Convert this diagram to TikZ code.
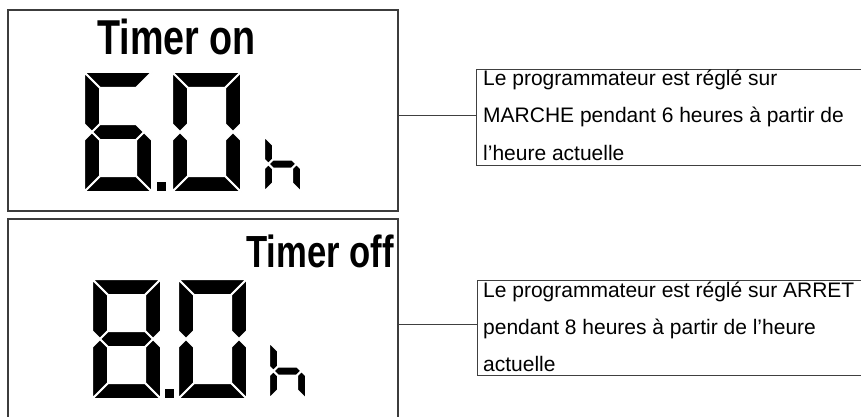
\documentclass[tikz,border=0pt]{standalone}
\usepackage{fontspec}
\setmainfont{Liberation Sans}
\definecolor{framegray}{HTML}{3C3C3C}
\definecolor{boxgray}{HTML}{404040}
\tikzset{
  seg/.style={fill=black, draw=white, line width=2pt, line join=round},
  lcdframe/.style={draw=framegray, line width=1.7pt, inner sep=0pt, anchor=north west},
  notebox/.style={draw=boxgray, line width=1.3pt, inner sep=0pt, anchor=north west},
  notetext/.style={anchor=base west, inner sep=0pt, font=\fontsize{21}{25}\selectfont},
  link/.style={draw=boxgray, line width=1.3pt},
  lcdtitle/.style={inner sep=0pt},
}
\newcommand\dset[6]{\def\dL{#1}\def\dR{#2}\def\dT{#3}\def\dB{#4}\def\dM{#5}\def\dt{#6}}
\newcommand\lcdA{\path[seg] (\dL,\dT) -- (\dR,\dT) -- ({\dR-\dt},{\dT+\dt}) -- ({\dL+\dt},{\dT+\dt}) -- cycle;}
\newcommand\lcdB{\path[seg] (\dR,\dT) -- (\dR,{\dM-\dt/2}) -- ({\dR-\dt/2},\dM) -- ({\dR-\dt},{\dM-\dt/2}) -- ({\dR-\dt},{\dT+\dt}) -- cycle;}
\newcommand\lcdC{\path[seg] (\dR,{\dM+\dt/2}) -- (\dR,\dB) -- ({\dR-\dt},{\dB-\dt}) -- ({\dR-\dt},{\dM+\dt/2}) -- ({\dR-\dt/2},\dM) -- cycle;}
\newcommand\lcdD{\path[seg] (\dL,\dB) -- ({\dL+\dt},{\dB-\dt}) -- ({\dR-\dt},{\dB-\dt}) -- (\dR,\dB) -- cycle;}
\newcommand\lcdE{\path[seg] (\dL,{\dM+\dt/2}) -- ({\dL+\dt/2},\dM) -- ({\dL+\dt},{\dM+\dt/2}) -- ({\dL+\dt},{\dB-\dt}) -- (\dL,\dB) -- cycle;}
\newcommand\lcdF{\path[seg] (\dL,\dT) -- ({\dL+\dt},{\dT+\dt}) -- ({\dL+\dt},{\dM-\dt/2}) -- ({\dL+\dt/2},\dM) -- (\dL,{\dM-\dt/2}) -- cycle;}
\newcommand\lcdG{\path[seg] ({\dL+\dt/2},\dM) -- ({\dL+\dt},{\dM-\dt/2}) -- ({\dR-\dt},{\dM-\dt/2}) -- ({\dR-\dt/2},\dM) -- ({\dR-\dt},{\dM+\dt/2}) -- ({\dL+\dt},{\dM+\dt/2}) -- cycle;}
\begin{document}
\begin{tikzpicture}[x=1pt,y=-1pt]
\useasboundingbox[fill=white] (0,0) rectangle (861,417);
\clip (0,0) rectangle (861,417);

% LCD frames
\node[lcdframe, minimum width=390pt, minimum height=201pt] (lcdA) at (7,9) {};
\node[lcdframe, minimum width=390pt, minimum height=212pt] (lcdB) at (7,218) {};

% Titles
\node[lcdtitle, anchor=base west] (ton) at (97,55) {\scalebox{0.77}[1]{\fontsize{49}{50}\selectfont\bfseries Timer on}};
\node[lcdtitle, anchor=base east] (toff) at (394,267) {\scalebox{0.77}[1]{\fontsize{45}{46}\selectfont\bfseries Timer off}};

% 6.0 h
\dset{84}{152}{72}{192}{132}{16}\lcdA\lcdC\lcdD\lcdE\lcdF\lcdG
\fill (157,182) rectangle (166,191);
\dset{172}{241}{72}{192}{132}{16}\lcdA\lcdB\lcdC\lcdD\lcdE\lcdF
\dset{264}{301}{136}{192}{164}{9}\lcdF\lcdE\lcdG\lcdC

% 8.0 h
\dset{92}{161}{279}{399}{339}{16}\lcdA\lcdB\lcdC\lcdD\lcdE\lcdF\lcdG
\fill (165,389) rectangle (174,398);
\dset{178}{247}{279}{399}{339}{16}\lcdA\lcdB\lcdC\lcdD\lcdE\lcdF
\dset{269}{306}{342}{399}{371}{9}\lcdF\lcdE\lcdG\lcdC

% Note boxes
\node[notebox, minimum width=394pt, minimum height=96pt] (tbA) at (476,69) {};
\node[notebox, minimum width=394pt, minimum height=95pt] (tbB) at (477,280) {};

\node[notetext] (a1) at (483,86) {Le programmateur est réglé sur};
\node[notetext] (a2) at (483,123) {MARCHE pendant 6 heures à partir de};
\node[notetext] (a3) at (483,160) {l’heure actuelle};

\node[notetext] (b1) at (483,297) {Le programmateur est réglé sur ARRET};
\node[notetext] (b2) at (483,334) {pendant 8 heures à partir de l’heure};
\node[notetext] (b3) at (483,371) {actuelle};

% Connectors
\coordinate (pA) at ([yshift=2pt]tbA.west);
\coordinate (pB) at ([yshift=3.5pt]tbB.west);
\draw[link] (pA -| lcdA.east) -- (pA);
\draw[link] (pB -| lcdB.east) -- (pB);
\end{tikzpicture}
\end{document}
